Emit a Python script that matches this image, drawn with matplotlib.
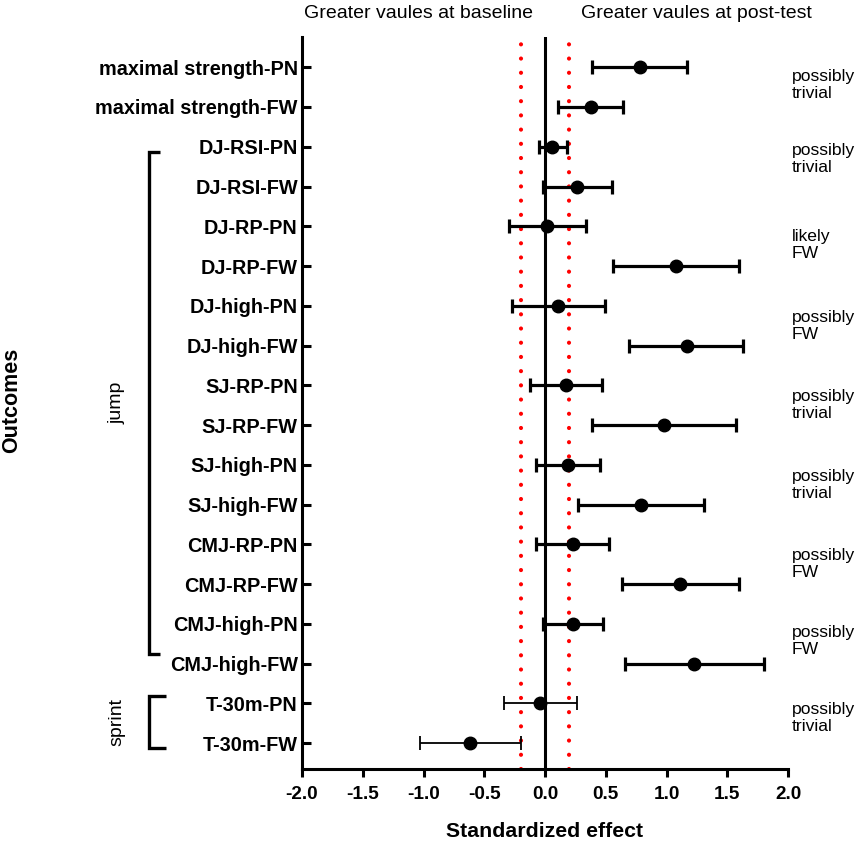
import numpy as np
import matplotlib
matplotlib.use("Agg")
import matplotlib.pyplot as plt
from matplotlib.transforms import blended_transform_factory

plt.rcParams['font.family'] = ['Liberation Sans', 'DejaVu Sans']

# ---------- DATA ----------
labels = ["maximal strength-PN", "maximal strength-FW",
          "DJ-RSI-PN", "DJ-RSI-FW", "DJ-RP-PN", "DJ-RP-FW",
          "DJ-high-PN", "DJ-high-FW", "SJ-RP-PN", "SJ-RP-FW",
          "SJ-high-PN", "SJ-high-FW", "CMJ-RP-PN", "CMJ-RP-FW",
          "CMJ-high-PN", "CMJ-high-FW", "T-30m-PN", "T-30m-FW"]
effect = [0.78, 0.38, 0.06, 0.26, 0.02, 1.08, 0.11, 1.17, 0.17,
          0.98, 0.19, 0.79, 0.23, 1.11, 0.23, 1.23, -0.04, -0.62]
lower = [0.39, 0.11, -0.05, -0.02, -0.30, 0.56, -0.27, 0.69, -0.12,
         0.39, -0.07, 0.27, -0.07, 0.63, -0.02, 0.66, -0.34, -1.03]
upper = [1.17, 0.64, 0.18, 0.55, 0.34, 1.60, 0.49, 1.63, 0.47,
         1.57, 0.45, 1.31, 0.53, 1.60, 0.48, 1.80, 0.26, -0.20]

# qualitative inference per PN/FW pair (text, row position)
inference = ["possibly\ntrivial", "possibly\ntrivial", "likely\nFW",
             "possibly\nFW", "possibly\ntrivial", "possibly\ntrivial",
             "possibly\nFW", "possibly\nFW", "possibly\ntrivial"]
inference_y = [1.45, 3.3, 5.48, 7.5, 9.5, 11.5, 13.5, 15.43, 17.37]

trivial = 0.2
xticks = [-2.0, -1.5, -1.0, -0.5, 0.0, 0.5, 1.0, 1.5, 2.0]

# ---------- FIGURE ----------
fig = plt.figure(figsize=(8.58, 8.41), dpi=100)
ax = fig.add_axes([302 / 858, 1 - 769 / 841, 486 / 858, 732 / 841])

y = np.arange(1, len(labels) + 1)
eff = np.array(effect)
err = np.array([eff - np.array(lower), np.array(upper) - eff])

# smallest worthwhile change and zero line
for v in (-trivial, trivial):
    ax.axvline(v, color="red", lw=3, linestyle=(0, (0.01, 3.4)),
               dash_capstyle="round", zorder=1)
ax.axvline(0, color="black", lw=2.2, zorder=2)

# strength + jump rows (thick bars), sprint rows (thin bars)
n = 16
ax.errorbar(eff[:n], y[:n], xerr=err[:, :n], fmt="o", color="black",
            ms=9, elinewidth=2.3, capsize=5, capthick=2.3, zorder=3)
ax.errorbar(eff[n:], y[n:], xerr=err[:, n:], fmt="o", color="black",
            ms=9, elinewidth=1.3, capsize=5, capthick=1.3, zorder=3)

ax.set_xlim(-2.0, 2.0)
ax.set_ylim(18.65, 0.24)
ax.set_xticks(xticks)
ax.set_xticklabels([f"{t:.1f}" for t in xticks])
ax.set_yticks(y)
ax.set_yticklabels(labels)

for s in ("top", "right"):
    ax.spines[s].set_visible(False)
for s in ("left", "bottom"):
    ax.spines[s].set_linewidth(2.2)

ax.tick_params(axis="x", direction="out", length=6, width=2.2, pad=6,
               labelsize=13.7)
ax.tick_params(axis="y", direction="in", length=6.5, width=2.2, pad=3,
               labelsize=14.3)
for lab in ax.get_xticklabels() + ax.get_yticklabels():
    lab.set_fontweight("bold")

ax.set_xlabel("Standardized effect", fontsize=15.3, fontweight="bold",
              labelpad=14)

# ---------- TOP HEADERS ----------
fig.text(418 / 858, 1 - 13 / 841, "Greater vaules at baseline",
         fontsize=14, ha="center", va="center")
fig.text(696 / 858, 1 - 13 / 841, "Greater vaules at post-test",
         fontsize=14, ha="center", va="center")

# ---------- RIGHT ANNOTATIONS ----------
for txt, yy in zip(inference, inference_y):
    ax.text(2.03, yy, txt, fontsize=12.6, ha="left", va="center",
            linespacing=1.15, clip_on=False)

# ---------- GROUP BRACKETS ----------
tr = blended_transform_factory(ax.transAxes, ax.transData)
bx = -0.315
# jump
ax.plot([bx + 0.023, bx, bx, bx + 0.023], [3.12, 3.12, 15.75, 15.75],
        color="black", lw=2.4, transform=tr, clip_on=False,
        solid_capstyle="butt", solid_joinstyle="miter")
ax.text(bx - 0.065, (3.12 + 15.75) / 2, "jump", rotation=90, fontsize=14,
        ha="center", va="center", transform=tr)
# sprint
ax.plot([bx + 0.035, bx, bx, bx + 0.035], [16.82, 16.82, 18.13, 18.13],
        color="black", lw=2.4, transform=tr, clip_on=False,
        solid_capstyle="butt", solid_joinstyle="miter")
ax.text(bx - 0.065, (16.82 + 18.13) / 2, "sprint", rotation=90,
        fontsize=14, ha="center", va="center", transform=tr)

# ---------- Y TITLE ----------
fig.text(12 / 858, 1 - 400 / 841, "Outcomes", rotation=90, fontsize=15.5,
         fontweight="bold", ha="center", va="center")

fig.savefig("out.png", dpi=100)
